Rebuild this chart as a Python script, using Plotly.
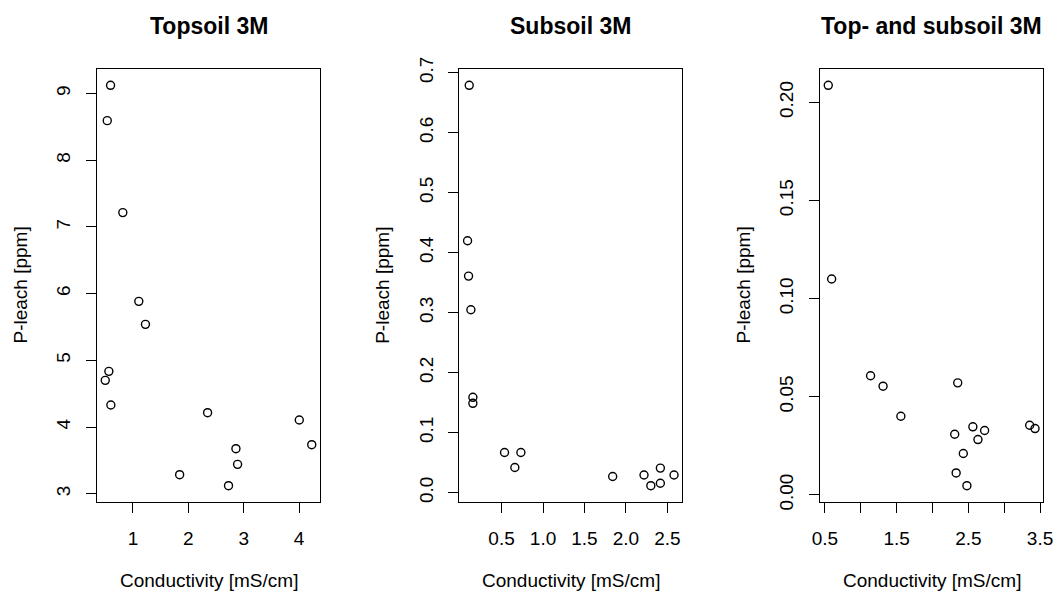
import plotly.graph_objects as go

# ---------------- data ----------------
top_cond = [0.595, 0.535, 0.816, 1.105, 1.225, 0.564, 0.499, 0.600, 2.348, 1.843, 2.860, 2.890, 2.726, 4.005, 4.230]
top_pleach = [9.125, 8.595, 7.216, 5.885, 5.540, 4.835, 4.700, 4.330, 4.215, 3.285, 3.675, 3.440, 3.120, 4.105, 3.735]

sub_cond = [0.110, 0.090, 0.102, 0.130, 0.154, 0.154, 0.536, 0.733, 0.660, 1.840, 2.218, 2.300, 2.415, 2.415, 2.580]
sub_pleach = [0.679, 0.420, 0.361, 0.305, 0.159, 0.149, 0.067, 0.067, 0.042, 0.027, 0.0295, 0.0117, 0.041, 0.0157, 0.0295]

both_cond = [0.547, 0.594, 1.137, 1.311, 1.559, 2.352, 2.310, 2.563, 2.727, 2.634, 2.430, 2.330, 2.480, 3.355, 3.430]
both_pleach = [0.2087, 0.110, 0.0607, 0.0554, 0.0401, 0.0571, 0.0309, 0.0347, 0.0328, 0.0282, 0.0211, 0.0112, 0.0047, 0.0355, 0.0338]

titles = ["Topsoil 3M", "Subsoil 3M", "Top- and subsoil 3M"]
x_label = "Conductivity [mS/cm]"
y_label = "P-leach [ppm]"

top_xticks = [1, 2, 3, 4]
top_xtext = ["1", "2", "3", "4"]
top_yticks = [3, 4, 5, 6, 7, 8, 9]
top_ytext = ["3", "4", "5", "6", "7", "8", "9"]

sub_xticks = [0.5, 1.0, 1.5, 2.0, 2.5]
sub_xtext = ["0.5", "1.0", "1.5", "2.0", "2.5"]
sub_yticks = [0.0, 0.1, 0.2, 0.3, 0.4, 0.5, 0.6, 0.7]
sub_ytext = ["0.0", "0.1", "0.2", "0.3", "0.4", "0.5", "0.6", "0.7"]

both_xticks = [0.5, 1.0, 1.5, 2.0, 2.5, 3.0, 3.5]
both_xtext = ["0.5", "", "1.5", "", "2.5", "", "3.5"]
both_yticks = [0.00, 0.05, 0.10, 0.15, 0.20]
both_ytext = ["0.00", "0.05", "0.10", "0.15", "0.20"]

# ---------------- layout ----------------
W, H = 1053, 592
FONT = "Liberation Sans, Arial, sans-serif"
FS = 19
box_x = [(97, 320), (459.3, 682.3), (820, 1043.3)]
box_y = (69.3, 501.7)  # top, bottom in px


def rng(v):
    lo, hi = min(v), max(v)
    d = (hi - lo) * 0.04
    return [lo - d, hi + d]


panels = [
    (top_cond, top_pleach, top_xticks, top_xtext, top_yticks, top_ytext),
    (sub_cond, sub_pleach, sub_xticks, sub_xtext, sub_yticks, sub_ytext),
    (both_cond, both_pleach, both_xticks, both_xtext, both_yticks, both_ytext),
]

fig = go.Figure()
annotations = []
layout = dict(
    width=W, height=H,
    margin=dict(l=0, r=0, t=0, b=0, autoexpand=False),
    paper_bgcolor="white", plot_bgcolor="white",
    showlegend=False,
    font=dict(family=FONT, size=FS, color="black"),
)
ydom = [1 - box_y[1] / H, 1 - box_y[0] / H]

for i, (xs, ys, xt, xtt, yt, ytt) in enumerate(panels):
    n = "" if i == 0 else str(i + 1)
    fig.add_trace(go.Scatter(
        x=xs, y=ys, mode="markers",
        xaxis="x" + n, yaxis="y" + n,
        marker=dict(symbol="circle-open", size=8, color="black", line=dict(width=1.4, color="black")),
        hoverinfo="x+y",
    ))
    xd = [box_x[i][0] / W, box_x[i][1] / W]
    common = dict(showline=True, mirror=True, linecolor="black", linewidth=1,
                  ticks="outside", ticklen=10, tickwidth=1, tickcolor="black",
                  showgrid=False, zeroline=False, fixedrange=True, automargin=False,
                  ticklabeloverflow="allow",
                  tickfont=dict(family=FONT, size=FS, color="black"))
    layout["xaxis" + n] = dict(common, domain=xd, range=rng(xs), tickmode="array",
                               tickvals=xt, ticktext=xtt, anchor="y" + n,
                               ticklabelstandoff=9)
    layout["yaxis" + n] = dict(common, domain=ydom, range=rng(ys), tickmode="array",
                               tickvals=yt, ticktext=ytt, anchor="x" + n,
                               tickangle=-90, ticklabelstandoff=8)
    cx = (box_x[i][0] + box_x[i][1]) / 2 / W
    annotations.append(dict(text="<b>" + titles[i] + "</b>", x=cx, y=1 - 26 / H,
                            xref="paper", yref="paper", xanchor="center", yanchor="middle",
                            showarrow=False, font=dict(family=FONT, size=23, color="black")))
    annotations.append(dict(text=x_label, x=cx, y=1 - 580.5 / H,
                            xref="paper", yref="paper", xanchor="center", yanchor="middle",
                            showarrow=False, borderpad=0,
                            font=dict(family=FONT, size=FS, color="black")))
    annotations.append(dict(text=y_label, x=(box_x[i][0] - 77) / W,
                            y=1 - ((box_y[0] + box_y[1]) / 2) / H,
                            xref="paper", yref="paper", xanchor="center", yanchor="middle",
                            textangle=-90, showarrow=False,
                            font=dict(family=FONT, size=FS, color="black")))

layout["annotations"] = annotations
fig.update_layout(**layout)
fig.write_html("out.html")
